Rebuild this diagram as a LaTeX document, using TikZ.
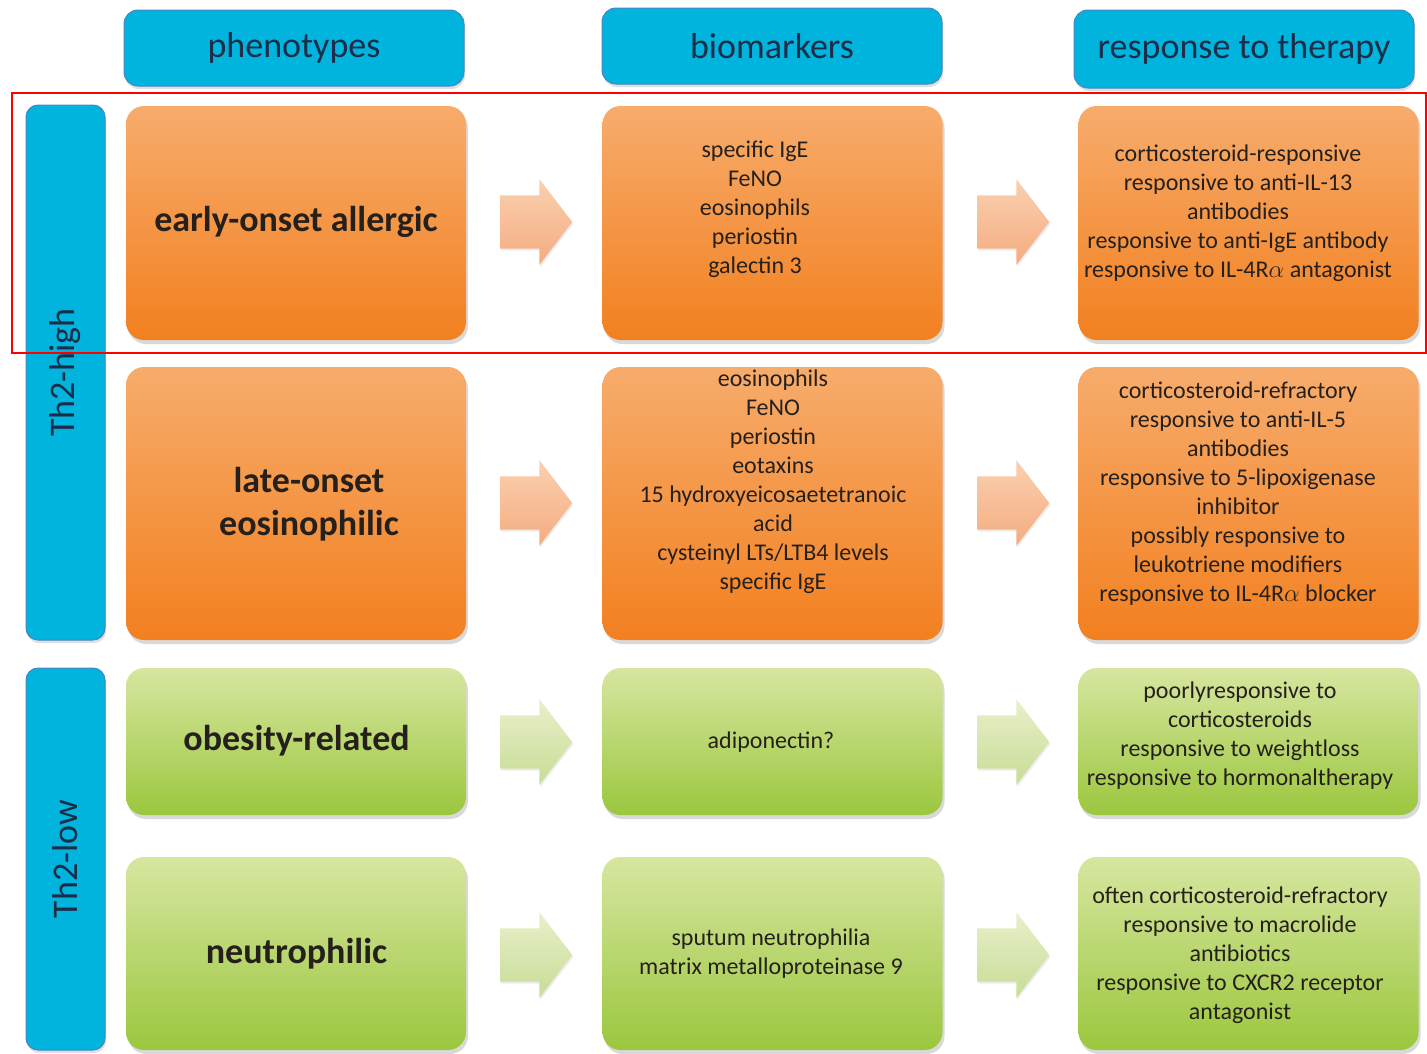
\documentclass[tikz,border=0pt]{standalone}
\usepackage{fontspec}
\setmainfont{Carlito}
\usetikzlibrary{positioning,shapes.arrows,shadows}
\definecolor{cyanhead}{RGB}{0,180,221}
\definecolor{cyanedge}{RGB}{70,135,195}
\definecolor{navytext}{RGB}{26,46,74}
\definecolor{inktext}{RGB}{38,32,28}
\definecolor{orangetop}{RGB}{247,172,108}
\definecolor{orangebot}{RGB}{242,128,32}
\definecolor{greentop}{RGB}{215,230,160}
\definecolor{greenbot}{RGB}{155,199,62}
\definecolor{arrowotop}{RGB}{250,208,176}
\definecolor{arrowobot}{RGB}{245,172,128}
\definecolor{arrowgtop}{RGB}{232,240,202}
\definecolor{arrowgbot}{RGB}{200,220,150}
\tikzset{
  head/.style={draw=cyanedge,line width=1pt,fill=cyanhead,rounded corners=14pt,minimum width=340pt,minimum height=76pt,inner sep=0pt,font=\fontsize{36}{40}\selectfont,text=navytext,drop shadow={shadow xshift=1pt,shadow yshift=-3pt,opacity=.25}},
  group/.style={head,rotate=90,rounded corners=12pt,minimum height=79pt},
  hibox/.style={rounded corners=18pt,top color=orangetop,bottom color=orangebot,minimum width=340pt,inner sep=0pt,drop shadow={shadow xshift=2pt,shadow yshift=-4pt,opacity=.3}},
  lobox/.style={hibox,top color=greentop,bottom color=greenbot},
  pheno/.style={font=\bfseries\fontsize{36}{43}\selectfont,text=inktext,align=center},
  small/.style={font=\fontsize{24}{29}\selectfont,text=inktext,align=center},
  hiarrow/.style={single arrow,single arrow head extend=16pt,single arrow tip angle=105,minimum height=72pt,minimum width=0pt,inner xsep=0pt,inner ysep=26.5pt,top color=arrowotop,bottom color=arrowobot,drop shadow={shadow xshift=1pt,shadow yshift=-2pt,opacity=.15}},
  loarrow/.style={hiarrow,top color=arrowgtop,bottom color=arrowgbot}
}
\begin{document}
\begin{tikzpicture}[x=1pt,y=-1pt]
\useasboundingbox (0,0) rectangle (1427,1053);
% column headers
\node[head] (phen) at (294,48) {phenotypes};
\node[head] (bio) at (772,46) {biomarkers};
\node[head,minimum height=78pt] (resp) at (1244,49) {response to therapy};
% Th2 groups
\node[group,minimum width=535pt] (high) at (65.5,372.5) {Th2-high};
\node[group,minimum width=382pt] (low) at (65.5,859) {Th2-low};
% boxes
\node[hibox,minimum height=234pt] (p1) at (296,223) {};
\node[hibox,minimum height=234pt] (b1) at (772.5,223) {};
\node[hibox,minimum height=234pt] (r1) at (1248.5,223) {};
\node[hibox,minimum height=273pt] (p2) at (296,503.5) {};
\node[hibox,minimum height=273pt] (b2) at (772.5,503.5) {};
\node[hibox,minimum height=273pt] (r2) at (1248.5,503.5) {};
\node[lobox,minimum height=147pt] (p3) at (296,741.5) {};
\node[lobox,minimum height=147pt] (b3) at (772.5,741.5) {};
\node[lobox,minimum height=147pt] (r3) at (1248.5,741.5) {};
\node[lobox,minimum height=193pt] (p4) at (296,953.5) {};
\node[lobox,minimum height=193pt] (b4) at (772.5,953.5) {};
\node[lobox,minimum height=193pt] (r4) at (1248.5,953.5) {};
% arrows between columns
\foreach \y/\st/\n in {222/hiarrow/1,503/hiarrow/2,742/loarrow/3,955/loarrow/4} {
 \node[\st] (pa\n) at (526,\y) {};
 \node[\st] (ra\n) at (1003,\y) {};
}
% texts
\node[pheno] (p1t) at (296,222) {early-onset allergic};
\node[pheno] (p2t) at (309,504) {late-onset\\eosinophilic};
\node[pheno] (p3t) at (296.5,741) {obesity-related};
\node[pheno] (p4t) at (296.5,954) {neutrophilic};
\node[small] (b1t) at (755,209) {specific IgE\\FeNO\\eosinophils\\periostin\\galectin 3};
\node[small] (b2t) at (773,482) {eosinophils\\FeNO\\periostin\\eotaxins\\15 hydroxyeicosaetetranoic\\acid\\cysteinyl LTs/LTB4 levels\\specific IgE};
\node[small] (b3t) at (771,742) {adiponectin?};
\node[small] (b4t) at (771,954) {sputum neutrophilia\\matrix metalloproteinase 9};
\node[small] (r1t) at (1238,213) {corticosteroid-responsive\\responsive to anti-IL-13\\antibodies\\responsive to anti-IgE antibody\\responsive to IL-4R$\alpha$ antagonist};
\node[small] (r2t) at (1238,494) {corticosteroid-refractory\\responsive to anti-IL-5\\antibodies\\responsive to 5-lipoxigenase\\inhibitor\\possibly responsive to\\leukotriene modifiers\\responsive to IL-4R$\alpha$ blocker};
\node[small] (r3t) at (1240,736) {poorlyresponsive to\\corticosteroids\\responsive to weightloss\\responsive to hormonaltherapy};
\node[small] (r4t) at (1240,955) {often corticosteroid-refractory\\responsive to macrolide\\antibiotics\\responsive to CXCR2 receptor\\antagonist};
% highlight
\draw[red,line width=1.5pt] (12,93) rectangle (1426,353);
\end{tikzpicture}
\end{document}
